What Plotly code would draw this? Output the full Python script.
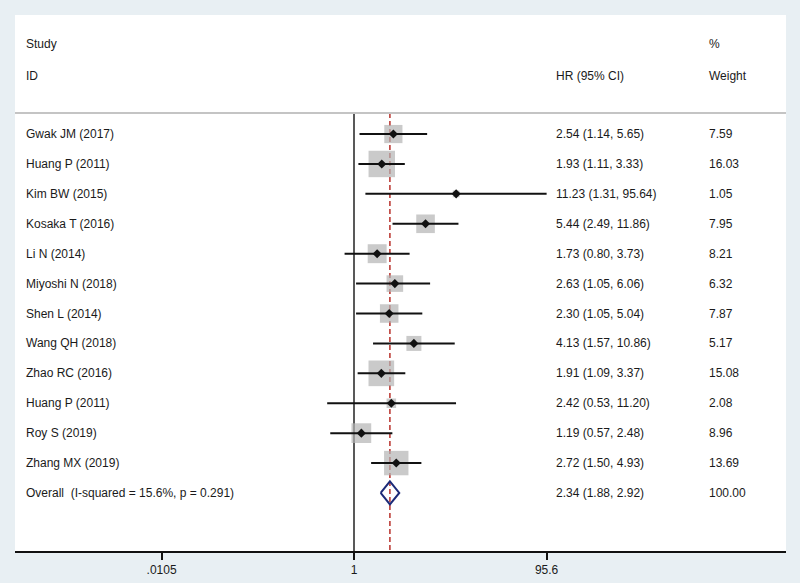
import math
import plotly.graph_objects as go

studies = ["Gwak JM (2017)", "Huang P (2011)", "Kim BW (2015)", "Kosaka T (2016)",
           "Li N (2014)", "Miyoshi N (2018)", "Shen L (2014)", "Wang QH (2018)",
           "Zhao RC (2016)", "Huang P (2011)", "Roy S (2019)", "Zhang MX (2019)"]
hr = [2.54, 1.93, 11.23, 5.44, 1.73, 2.63, 2.30, 4.13, 1.91, 2.42, 1.19, 2.72]
lo = [1.14, 1.11, 1.31, 2.49, 0.80, 1.05, 1.05, 1.57, 1.09, 0.53, 0.57, 1.50]
hi = [5.65, 3.33, 95.64, 11.86, 3.73, 6.06, 5.04, 10.86, 3.37, 11.20, 2.48, 4.93]
weight = [7.59, 16.03, 1.05, 7.95, 8.21, 6.32, 7.87, 5.17, 15.08, 2.08, 8.96, 13.69]

overall_label = "Overall  (I-squared = 15.6%, p = 0.291)"
overall_hr, overall_lo, overall_hi, overall_w = 2.34, 1.88, 2.92, 100.00

tick_vals = [0.0105, 1, 95.6]
tick_text = [".0105", "1", "95.6"]

n = len(studies)
rows = list(range(n))
overall_row = n

W, H = 800, 583
ml, mr, mt, mb = 15, 14, 15, 32
pw = W - ml - mr
ppd = 97.25  # pixels per decade
x1px = 354
xr = [-(x1px - ml) / ppd, (W - mr - x1px) / ppd]
y_top, y_bot = -3.98, 13.94
sep_y = -0.70

def px2paper(px):
    return (px - ml) / pw

font_fam = "Liberation Sans, Arial, sans-serif"
txt_col = "#1a1a1a"
fs = 12

fig = go.Figure()

# red dashed overall line
fig.add_trace(go.Scatter(x=[overall_hr, overall_hr], y=[sep_y, y_bot], mode="lines",
                         line=dict(color="#b8302a", width=1.5, dash="5px,3px"),
                         hoverinfo="skip", showlegend=False))
# null line
fig.add_trace(go.Scatter(x=[1, 1], y=[sep_y, y_bot], mode="lines",
                         line=dict(color="#222222", width=1.5),
                         hoverinfo="skip", showlegend=False))
# weight squares
fig.add_trace(go.Scatter(x=hr, y=rows, mode="markers",
                         marker=dict(symbol="square", color="#b4b4b4",
                                     size=[6.6 * math.sqrt(w) for w in weight],
                                     line=dict(width=0)),
                         hoverinfo="skip", showlegend=False))
# CI lines
cx, cy = [], []
for i in range(n):
    cx += [lo[i], hi[i], None]
    cy += [i, i, None]
fig.add_trace(go.Scatter(x=cx, y=cy, mode="lines", line=dict(color="#111111", width=2),
                         hoverinfo="skip", showlegend=False))
# point estimates
fig.add_trace(go.Scatter(x=hr, y=rows, mode="markers",
                         marker=dict(symbol="diamond", color="#111111", size=7),
                         hoverinfo="skip", showlegend=False))
# overall diamond
dh = 0.385
fig.add_trace(go.Scatter(x=[overall_lo, overall_hr, overall_hi, overall_hr, overall_lo],
                         y=[overall_row, overall_row - dh, overall_row, overall_row + dh, overall_row],
                         mode="lines", line=dict(color="#1c2a78", width=2),
                         hoverinfo="skip", showlegend=False))

anns = []
def add_text(px, y, text):
    anns.append(dict(x=px2paper(px), xref="paper", y=y, yref="y", text=text,
                     showarrow=False, xanchor="left", yanchor="middle",
                     font=dict(family=font_fam, size=fs, color=txt_col)))

add_text(24, -3.0, "Study")
add_text(24, -1.95, "ID")
add_text(554, -1.95, "HR (95% CI)")
add_text(707, -3.0, "%")
add_text(707, -1.95, "Weight")
for i in range(n):
    add_text(24, i, studies[i])
    add_text(554, i, f"{hr[i]:.2f} ({lo[i]:.2f}, {hi[i]:.2f})")
    add_text(707, i, f"{weight[i]:.2f}")
add_text(24, overall_row, overall_label)
add_text(554, overall_row, f"{overall_hr:.2f} ({overall_lo:.2f}, {overall_hi:.2f})")
add_text(707, overall_row, f"{overall_w:.2f}")

fig.update_layout(
    width=W, height=H,
    margin=dict(l=ml, r=mr, t=mt, b=mb, pad=0),
    paper_bgcolor="#e8eff3",
    plot_bgcolor="#ffffff",
    showlegend=False,
    annotations=anns,
    shapes=[dict(type="line", xref="paper", x0=0, x1=1, yref="y", y0=sep_y, y1=sep_y,
                 line=dict(color="#c4c4c4", width=2))],
    xaxis=dict(type="log", range=xr, showgrid=False, zeroline=False, automargin=False,
               showline=True, linecolor="#111111", linewidth=1.5,
               ticks="outside", ticklen=7, tickwidth=1.5, tickcolor="#111111",
               tickvals=tick_vals, ticktext=tick_text,
               tickfont=dict(family=font_fam, size=fs, color=txt_col)),
    yaxis=dict(range=[y_bot, y_top], visible=False, showgrid=False, zeroline=False,
               automargin=False),
)

fig.write_html("out.html", config={"displayModeBar": False},
               post_script="document.body.style.margin='0';document.body.style.padding='0';")
